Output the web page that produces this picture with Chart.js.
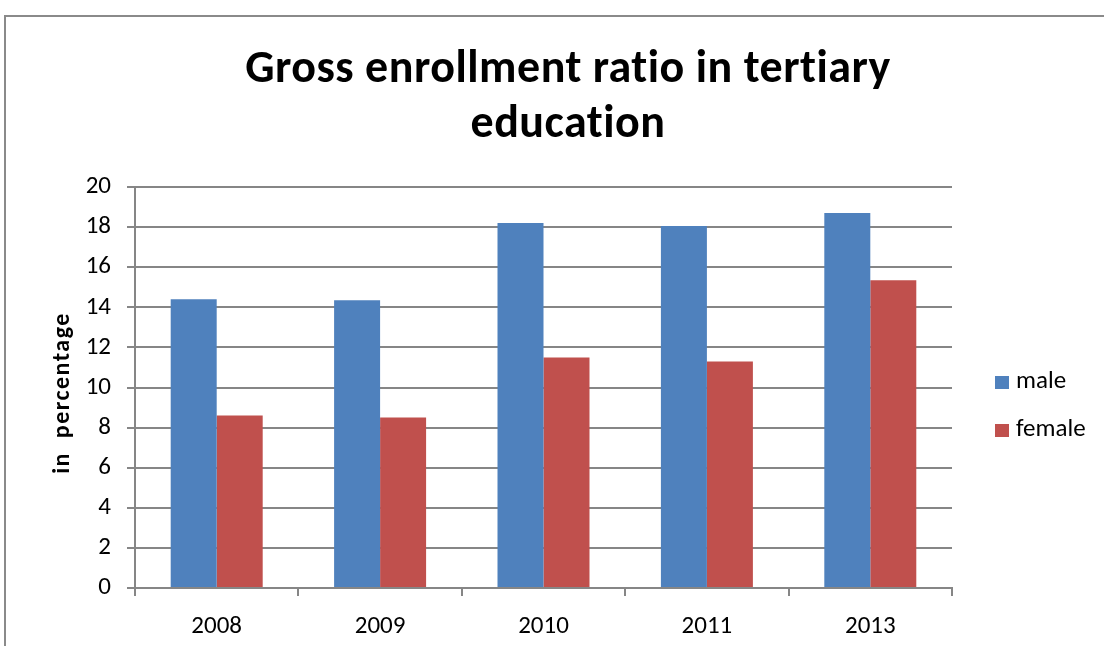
<!DOCTYPE html>
<html>
<head>
<meta charset="utf-8">
<script src="https://cdn.jsdelivr.net/npm/chart.js@4/dist/chart.umd.min.js"></script>
<style>
  html, body { margin: 0; padding: 0; background: #fff; }
  #wrap { position: relative; width: 1104px; height: 646px; overflow: hidden; }
  #frame { position: absolute; left: 4px; top: 15px; right: -4px; bottom: -4px;
           border-top: 2px solid #8a8a8a; border-left: 2px solid #8a8a8a; pointer-events: none; }
  canvas { position: absolute; left: 0; top: 0; }
</style>
</head>
<body>
<div id="wrap">
  <canvas id="chart" width="1104" height="646"></canvas>
  <div id="frame"></div>
</div>
<script>
// Gross enrollment ratio in tertiary education, by sex (%)
const years = ['2008', '2009', '2010', '2011', '2013'];
const maleValues = [14.4, 14.35, 18.2, 18.05, 18.7];
const femaleValues = [8.6, 8.5, 11.5, 11.3, 15.35];
const yTicks = [0, 2, 4, 6, 8, 10, 12, 14, 16, 18, 20];
const titleLines = ['Gross enrollment ratio in tertiary', 'education'];
const yAxisTitle = 'in  percentage';

const FONT = 'Carlito, Lato, "Open Sans", sans-serif';
const GRID = '#868686';

// Draws the two-line heading, the rotated value-axis caption and the key
const headerAndKey = {
  id: 'headerAndKey',
  afterDraw(chart) {
    const ctx = chart.ctx;
    ctx.save();
    ctx.fillStyle = '#000';
    ctx.textAlign = 'center';
    ctx.textBaseline = 'alphabetic';
    ctx.font = 'bold 46px ' + FONT;
    ctx.letterSpacing = '0.5px';
    titleLines.forEach((line, i) => ctx.fillText(line, 568, 82 + i * 55));

    // value-axis caption, rotated
    ctx.save();
    ctx.translate(63, 393);
    ctx.rotate(-Math.PI / 2);
    ctx.font = 'bold 24px ' + FONT;
    ctx.letterSpacing = '1.5px';
    ctx.textBaseline = 'middle';
    ctx.fillText(yAxisTitle, 0, 0);
    ctx.restore();

    ctx.letterSpacing = '0px';
    ctx.font = '25px ' + FONT;
    ctx.textAlign = 'left';
    ctx.textBaseline = 'middle';
    chart.data.datasets.forEach((ds, i) => {
      const y = 382 + i * 48;
      ctx.fillStyle = ds.backgroundColor;
      ctx.fillRect(995, y - 6, 14, 13);
      ctx.fillStyle = '#000';
      ctx.fillText(ds.label, 1016, y);
    });
    ctx.restore();
  }
};

new Chart(document.getElementById('chart'), {
  type: 'bar',
  data: {
    labels: years,
    datasets: [
      { label: 'male', data: maleValues, backgroundColor: '#4F81BD' },
      { label: 'female', data: femaleValues, backgroundColor: '#C0504D' }
    ]
  },
  options: {
    responsive: false,
    animation: false,
    events: [],
    layout: { padding: { top: 187, right: 152, left: 0, bottom: 0 } },
    datasets: { bar: { categoryPercentage: 0.563, barPercentage: 1.0 } },
    plugins: {
      legend: { display: false },
      title: { display: false },
      tooltip: { enabled: false }
    },
    scales: {
      x: {
        offset: true,
        grid: { offset: true, drawOnChartArea: false, drawTicks: true, tickLength: 8, color: GRID, lineWidth: 2 },
        border: { display: true, color: GRID, width: 2 },
        ticks: { color: '#000', font: { family: FONT, size: 25 }, padding: 16, maxRotation: 0 },
        afterFit(scale) { scale.height = 58; }
      },
      y: {
        min: 0,
        max: 20,
        afterBuildTicks(scale) { scale.ticks = yTicks.map(v => ({ value: v })); },
        grid: { color: GRID, lineWidth: 2, tickLength: 8 },
        border: { display: true, color: GRID, width: 2 },
        ticks: { color: '#000', font: { family: FONT, size: 25 }, padding: 16 },
        afterFit(scale) { scale.width = 135; }
      }
    }
  },
  plugins: [headerAndKey]
});
</script>
</body>
</html>
